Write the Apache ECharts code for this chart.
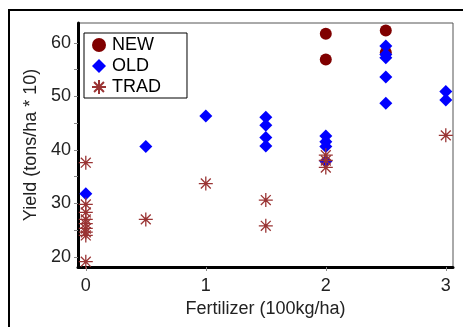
<!DOCTYPE html>
<html>
<head>
<meta charset="utf-8">
<script src="https://cdn.jsdelivr.net/npm/echarts@6/dist/echarts.min.js"></script>
<style>
  html, body { margin: 0; padding: 0; background: #fff; }
  #wrap { position: relative; width: 463px; height: 327px; overflow: hidden; }
  #frame { position: absolute; left: 8px; top: 9px; width: 480px; height: 340px; border: 2px solid #000; box-sizing: border-box; }
  #chart { position: absolute; left: 0; top: 0; width: 463px; height: 327px; }
</style>
</head>
<body>
<div id="wrap">
  <div id="frame"></div>
  <div id="chart"></div>
</div>
<script>
// fertilizer (100kg/ha), yield (tons/ha * 10)
const newX = [2, 2, 2.5, 2.5];
const newY = [61.7, 56.9, 62.3, 58.2];

const oldX = [0, 0.5, 1, 1.5, 1.5, 1.5, 1.5, 2, 2, 2, 2, 2.5, 2.5, 2.5, 2.5, 2.5, 3, 3];
const oldY = [31.8, 40.6, 46.3, 46.1, 44.6, 42.3, 40.7, 42.6, 41.5, 40.6, 37.8, 59.4, 57.8, 57.2, 53.6, 48.7, 50.9, 49.3];

const tradX = [0, 0, 0, 0, 0, 0, 0, 0, 0, 0.5, 1, 1.5, 1.5, 2, 2, 2, 3];
const tradY = [37.6, 29.8, 28.3, 27.0, 26.2, 25.3, 24.6, 24.0, 19.1, 27.0, 33.7, 30.6, 25.8, 39.0, 38.0, 36.7, 42.7];

const xTicks = [0, 1, 2, 3];
const yTicks = [20, 30, 40, 50, 60];
const yMinorTicks = [20, 25, 30, 35, 40, 45, 50, 55, 60];

const pairs = (xs, ys) => xs.map((x, i) => [x, ys[i]]);

const star = "path://M0,-10L0,10M-10,0L10,0M-7.07,-7.07L7.07,7.07M-7.07,7.07L7.07,-7.07M-1.6,-1.6L1.6,-1.6L1.6,1.6L-1.6,1.6Z";

const chart = echarts.init(document.getElementById("chart"));
const font = "Liberation Sans, Arial, sans-serif";

chart.setOption({
  animation: false,
  grid: {
    left: 78, right: 10, top: 23, bottom: 60,
    show: true, borderColor: "#555", borderWidth: 1
  },
  legend: {
    left: 84, top: 33,
    orient: "vertical",
    backgroundColor: "#fff",
    borderColor: "#000", borderWidth: 1,
    padding: [3, 26, 2, 7],
    itemWidth: 14, itemHeight: 14, itemGap: 3,
    textStyle: { fontFamily: font, fontSize: 18, lineHeight: 18, color: "#000", padding: [0, 0, 0, 1] },
    data: ["NEW", "OLD", "TRAD"]
  },
  xAxis: {
    type: "value",
    min: -0.065, max: 3.06,
    name: "Fertilizer (100kg/ha)",
    nameLocation: "middle", nameGap: 31,
    nameTextStyle: { fontFamily: font, fontSize: 18, color: "#222" },
    axisLine: { onZero: false, lineStyle: { color: "#000", width: 3 } },
    axisTick: { customValues: xTicks, length: 4, lineStyle: { color: "#888" } },
    axisLabel: { customValues: xTicks, fontFamily: font, fontSize: 18, color: "#222", margin: 10 },
    splitLine: { show: false }
  },
  yAxis: {
    type: "value",
    min: 18.1, max: 63.7,
    name: "Yield (tons/ha * 10)",
    nameLocation: "middle", nameGap: 34,
    nameTextStyle: { fontFamily: font, fontSize: 18, color: "#222" },
    axisLine: { onZero: false, lineStyle: { color: "#000", width: 3 } },
    axisTick: { customValues: yMinorTicks, length: 4, lineStyle: { color: "#888" } },
    axisLabel: { customValues: yTicks, fontFamily: font, fontSize: 18, color: "#222", margin: 7 },
    splitLine: { show: false }
  },
  series: [
    {
      name: "NEW", type: "scatter",
      symbol: "circle", symbolSize: 12,
      itemStyle: { color: "#800000", opacity: 1 },
      data: pairs(newX, newY)
    },
    {
      name: "OLD", type: "scatter",
      symbol: "diamond", symbolSize: 13,
      itemStyle: { color: "#0000ff", opacity: 1 },
      data: pairs(oldX, oldY)
    },
    {
      name: "TRAD", type: "scatter",
      symbol: star, symbolSize: 14,
      itemStyle: { color: "#800000", borderColor: "#9a3434", borderWidth: 1.3, opacity: 1 },
      data: pairs(tradX, tradY)
    }
  ]
});
</script>
</body>
</html>
